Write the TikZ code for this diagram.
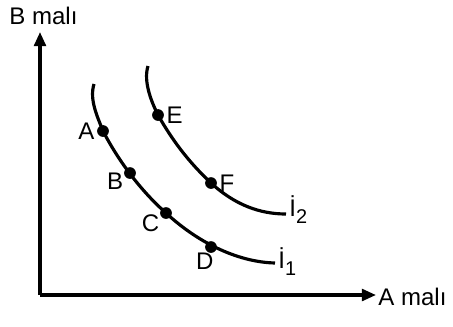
\documentclass[tikz,border=0pt]{standalone}
\usepackage{fontspec}
\setmainfont{Liberation Sans}
\usetikzlibrary{arrows.meta}
\usetikzlibrary{positioning}

\newcommand{\sbs}[1]{\raisebox{-0.55ex}{\fontsize{17}{19}\selectfont #1}}

\tikzset{
  curve/.style={line width=2.7pt},
  axis/.style={line width=2.7pt, -{Triangle[length=12pt,width=10pt]}},
  dot/.style={circle, fill, inner sep=0pt, minimum size=10pt},
  lbl/.style={font=\fontsize{20.5}{23}\selectfont, inner sep=1pt}
}

\begin{document}
\begin{tikzpicture}[x=0.03cm, y=-0.03cm]
      \useasboundingbox (0,0) rectangle (453,326);
      % axes
      \coordinate (O) at (40,295);
      \coordinate (ytip) at (40,32);
      \coordinate (xtip) at (376,295);
      \draw[axis] (O) -- (ytip);
      \draw[axis] (O) -- (xtip);
      \node[lbl, anchor=west] (Bmal) at (8,16) {B malı};
      \node[lbl, anchor=west] (Amal) at (377,297) {A malı};
      % lower curve
      \draw[curve] (94,84) .. controls (89,100) and (98,118) .. (103,131)
        .. controls (118,160) and (140,190) .. (166,213)
        .. controls (195,240) and (235,262) .. (275,263);
      % upper curve
      \draw[curve] (148,66) .. controls (143,82) and (152,103) .. (158,115)
        .. controls (175,145) and (192,165) .. (211,183)
        .. controls (235,205) and (260,214) .. (286,214);
      % points
      \node[dot] (A) at (103,131) {};
      \node[dot] (B) at (130,173) {};
      \node[dot] (C) at (166,213) {};
      \node[dot] (D) at (211,247) {};
      \node[dot] (E) at (158,115) {};
      \node[dot] (F) at (211,183) {};
      \node[lbl, left=1pt of A] {A};
      \node[lbl, below left=-5pt and 1pt of B] {B};
      \node[lbl, below left=-3pt and 1pt of C] {C};
      \node[lbl, below left=0pt and -7pt of D] {D};
      \node[lbl, right=1pt of E] {E};
      \node[lbl, right=1pt of F] {F};
      \node[lbl, anchor=west] (i1) at (277,262) {İ\sbs{1}};
      \node[lbl, anchor=west] (i2) at (288,210) {İ\sbs{2}};
    \end{tikzpicture}
\end{document}
